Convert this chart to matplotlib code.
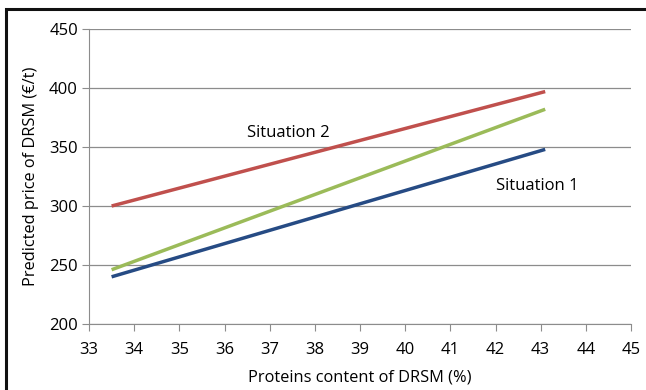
import matplotlib
matplotlib.use('Agg')
import matplotlib.pyplot as plt
from matplotlib.patches import Rectangle

plt.rcParams['font.family'] = ['Open Sans', 'DejaVu Sans']

# proteins content (%) at both ends of each line
protein = [33.5, 43.1]
situation1 = [240, 348]   # blue
situation2 = [300, 397]   # red
middle = [246, 382]       # green

fig = plt.figure(figsize=(6.46, 3.90), dpi=100)
ax = fig.add_axes([0.1378, 0.1692, 0.839, 0.7564])

ax.plot(protein, situation1, color='#264B84', lw=2.5, solid_capstyle='butt')
ax.plot(protein, situation2, color='#C0504D', lw=2.5, solid_capstyle='butt')
ax.plot(protein, middle, color='#9BBB59', lw=2.5, solid_capstyle='butt')

ax.set_xlim(33, 45)
ax.set_ylim(200, 450)
ax.set_xticks(range(33, 46))
ax.set_yticks(range(200, 451, 50))
ax.yaxis.grid(True, color='#8C8C8C', lw=0.9)
ax.set_axisbelow(True)
for s in ['top', 'right']:
    ax.spines[s].set_visible(False)
for s in ['left', 'bottom']:
    ax.spines[s].set_color('#8C8C8C')
ax.tick_params(axis='both', colors='#8C8C8C', labelcolor='black', labelsize=12, length=5, direction='out')
ax.tick_params(axis='x', pad=8)
ax.tick_params(axis='y', pad=3)

ax.text(36.5, 362, 'Situation 2', fontsize=12, va='center')
ax.text(42.0, 317, 'Situation 1', fontsize=12, va='center')

ax.set_xlabel('Proteins content of DRSM (%)', fontsize=11.8, labelpad=8)
ax.set_ylabel('Predicted price of DRSM (€/t)', fontsize=11.8, labelpad=7)

# black frame around the figure
fig.patches.append(Rectangle((6 / 646, -0.1), 1.1, 1 - 9 / 390 + 0.1, transform=fig.transFigure,
                             fill=False, edgecolor='#111111', lw=2.2))

fig.savefig('out.png', dpi=100)
